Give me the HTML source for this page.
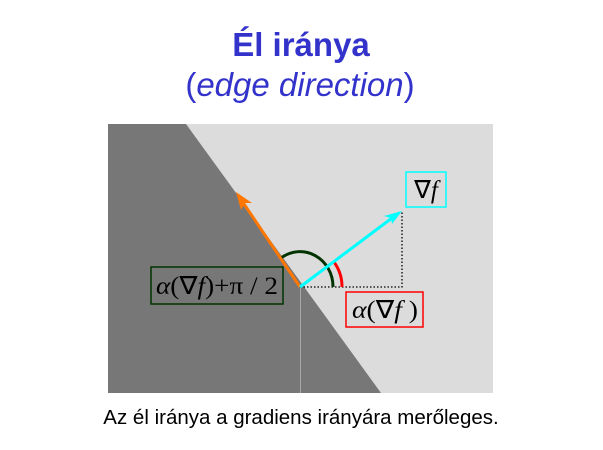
<!DOCTYPE html>
<html><head><meta charset="utf-8"><style>
html,body{margin:0;padding:0;background:#fff;}
svg{display:block}
</style></head><body>
<svg width="603" height="450" viewBox="0 0 603 450" xmlns="http://www.w3.org/2000/svg">
<text x="301" y="56" text-anchor="middle" font-family="Liberation Sans, sans-serif" font-weight="bold" font-size="33" fill="#3333cc">Él iránya</text>
<text x="300" y="96" text-anchor="middle" font-family="Liberation Sans, sans-serif" font-size="33" fill="#3333cc">(<tspan font-style="italic">edge direction</tspan>)</text>
<rect x="108" y="124" width="385" height="269" fill="#dcdcdc"/>
<polygon points="108,124 186,124 381,393 108,393" fill="#777777"/>
<line x1="300.5" y1="287" x2="300.5" y2="393" stroke="#a8a8a8" stroke-width="1"/>
<polyline points="300,287 402,287 402,211" fill="none" stroke="#000" stroke-width="1.3" stroke-dasharray="1.5,2"/>
<path d="M 333 287 A 33 35 0 0 0 281 258" fill="none" stroke="#003300" stroke-width="3"/>
<path d="M 342 287 A 42 42 0 0 0 334 262" fill="none" stroke="#ff0000" stroke-width="3"/>
<line x1="300" y1="287" x2="240" y2="198" stroke="#ff7700" stroke-width="3"/>
<polygon points="236,192 252,203 245,203 241,210" fill="#ff7700"/>
<line x1="300" y1="287" x2="396" y2="215" stroke="#00ffff" stroke-width="3"/>
<polygon points="402,211 392,224 391,218 384,216" fill="#00ffff"/>
<rect x="406" y="172" width="40" height="35" fill="#dcdcdc" stroke="#00ffff" stroke-width="1.5"/>
<text x="426" y="198" text-anchor="middle" font-family="Liberation Serif, serif" font-size="25" fill="#000">∇<tspan font-style="italic">f</tspan></text>
<rect x="346" y="292" width="77" height="35" fill="#dcdcdc" stroke="#ff0000" stroke-width="1.5"/>
<text x="352" y="318" font-family="Liberation Serif, serif" font-size="25" fill="#000" textLength="66" lengthAdjust="spacingAndGlyphs"><tspan font-style="italic">α</tspan>(∇<tspan font-style="italic">f</tspan> )</text>
<rect x="151" y="267" width="132" height="37" fill="#777777" stroke="#003300" stroke-width="1.5"/>
<text x="156" y="294" font-family="Liberation Serif, serif" font-size="25" fill="#000" textLength="122" lengthAdjust="spacingAndGlyphs"><tspan font-style="italic">α</tspan>(∇<tspan font-style="italic">f</tspan>)+π / 2</text>
<text x="301" y="424" text-anchor="middle" font-family="Liberation Sans, sans-serif" font-size="20.5" fill="#000">Az él iránya a gradiens irányára merőleges.</text>
</svg>
</body></html>
